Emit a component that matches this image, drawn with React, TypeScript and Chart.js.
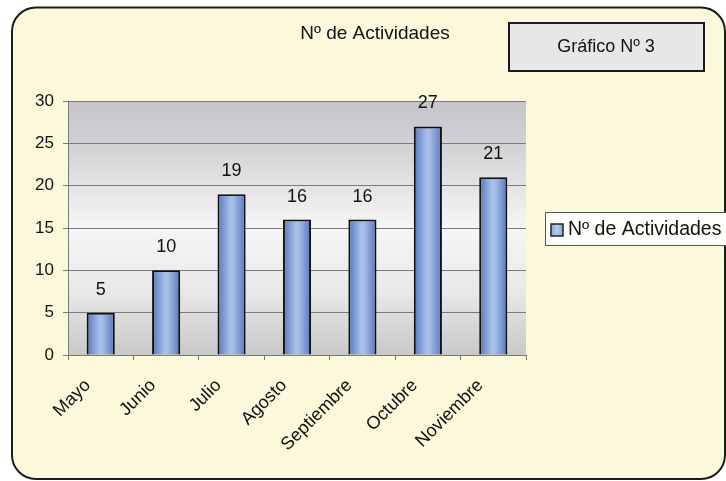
import { useEffect, useRef } from 'react';
import { Chart, registerables } from 'chart.js';

Chart.register(...registerables);

// Data
const months = ['Mayo', 'Junio', 'Julio', 'Agosto', 'Septiembre', 'Octubre', 'Noviembre'];
const activities = [5, 10, 19, 16, 16, 27, 21];
const yTicks = [0, 5, 10, 15, 20, 25, 30];
const chartTitle = 'Nº de Actividades';
const badgeText = 'Gráfico Nº 3';
const seriesName = 'Nº de Actividades';

const FONT = '"Liberation Sans", Arial, sans-serif';
const BAR_FRACTION = 0.43;

function roundRect(ctx: CanvasRenderingContext2D, x: number, y: number, w: number, h: number, r: number) {
  ctx.beginPath();
  ctx.moveTo(x + r, y);
  ctx.lineTo(x + w - r, y);
  ctx.arcTo(x + w, y, x + w, y + r, r);
  ctx.lineTo(x + w, y + h - r);
  ctx.arcTo(x + w, y + h, x + w - r, y + h, r);
  ctx.lineTo(x + r, y + h);
  ctx.arcTo(x, y + h, x, y + h - r, r);
  ctx.lineTo(x, y + r);
  ctx.arcTo(x, y, x + r, y, r);
  ctx.closePath();
}

// Page frame, plot background, title, badge, legend and value labels
const decorations = {
  id: 'decorations',
  beforeDraw(chart: any) {
    const ctx: CanvasRenderingContext2D = chart.ctx;
    const { left, right, top, bottom } = chart.chartArea;
    ctx.save();
    ctx.fillStyle = '#ffffff';
    ctx.fillRect(0, 0, chart.width, chart.height);
    roundRect(ctx, 12, 7.5, 713, 471.5, 24);
    ctx.fillStyle = '#fbf8dc';
    ctx.fill();
    ctx.lineWidth = 2;
    ctx.strokeStyle = '#1c1c1c';
    ctx.stroke();

    const g = ctx.createLinearGradient(0, top, 0, bottom);
    g.addColorStop(0, '#c4c4c9');
    g.addColorStop(0.18, '#d3d3d6');
    g.addColorStop(0.5, '#f6f6f6');
    g.addColorStop(0.75, '#e8e8e8');
    g.addColorStop(1, '#c8c8c8');
    ctx.fillStyle = g;
    ctx.fillRect(left, top, right - left, bottom - top);
    ctx.restore();
  },
  afterDatasetsDraw(chart: any) {
    const ctx: CanvasRenderingContext2D = chart.ctx;
    const meta = chart.getDatasetMeta(0);
    ctx.save();
    ctx.fillStyle = '#111111';
    ctx.font = `18px ${FONT}`;
    ctx.textAlign = 'center';
    ctx.textBaseline = 'middle';
    meta.data.forEach((el: any, i: number) => {
      ctx.fillText(String(activities[i]), el.x, el.y - 23);
    });
    ctx.restore();
  },
  afterDraw(chart: any) {
    const ctx: CanvasRenderingContext2D = chart.ctx;
    ctx.save();
    ctx.fillStyle = '#111111';
    ctx.textBaseline = 'middle';
    ctx.textAlign = 'center';
    ctx.font = `19px ${FONT}`;
    ctx.fillText(chartTitle, 375, 34);

    // badge
    ctx.fillStyle = '#e7e7e7';
    ctx.fillRect(509, 23, 195, 48);
    ctx.lineWidth = 2;
    ctx.strokeStyle = '#1a1a1a';
    ctx.strokeRect(509, 23, 195, 48);
    ctx.fillStyle = '#111111';
    ctx.font = `18px ${FONT}`;
    ctx.fillText(badgeText, 606, 47);

    // legend
    ctx.fillStyle = '#fdfdf9';
    ctx.fillRect(545.5, 212.5, 200, 33);
    ctx.lineWidth = 1;
    ctx.strokeStyle = '#555555';
    ctx.strokeRect(545.5, 212.5, 200, 33);
    const mg = ctx.createLinearGradient(551, 0, 563, 0);
    mg.addColorStop(0, '#8aa5d6');
    mg.addColorStop(0.5, '#b8cbec');
    mg.addColorStop(1, '#8aa5d6');
    ctx.fillStyle = mg;
    ctx.fillRect(551, 224, 12, 12);
    ctx.lineWidth = 1.5;
    ctx.strokeStyle = '#222222';
    ctx.strokeRect(551, 224, 12, 12);
    ctx.fillStyle = '#111111';
    ctx.textAlign = 'left';
    ctx.font = `19.5px ${FONT}`;
    ctx.fillText(seriesName, 568, 230);
    ctx.restore();
  },
};

function barFill(c: any) {
  const xs = c.chart.scales && c.chart.scales.x;
  if (!xs || !isFinite(xs.width) || xs.width <= 0) return '#7f9bd0';
  const cx = xs.getPixelForValue(c.dataIndex);
  const half = (xs.width / months.length) * BAR_FRACTION / 2;
  const g = c.chart.ctx.createLinearGradient(cx - half, 0, cx + half, 0);
  g.addColorStop(0, '#5777bd');
  g.addColorStop(0.45, '#a6bee8');
  g.addColorStop(0.55, '#a6bee8');
  g.addColorStop(1, '#5777bd');
  return g;
}

export default function App() {
  const canvasRef = useRef<HTMLCanvasElement | null>(null);

  useEffect(() => {
    if (!canvasRef.current) return;
    const chart = new Chart(canvasRef.current, {
      type: 'bar',
      data: {
        labels: months,
        datasets: [
          {
            label: seriesName,
            data: activities,
            backgroundColor: barFill,
            borderColor: '#101010',
            borderWidth: 2,
            barPercentage: BAR_FRACTION,
            categoryPercentage: 1,
          },
        ],
      },
      options: {
        animation: false,
        responsive: false,
        maintainAspectRatio: false,
        layout: { padding: { left: 0, right: 200, top: 101, bottom: 0 } },
        plugins: {
          legend: { display: false },
          title: { display: false },
          tooltip: { enabled: false },
        },
        scales: {
          x: {
            offset: true,
            grid: {
              offset: true,
              drawOnChartArea: false,
              drawTicks: true,
              tickLength: 5,
              color: '#7a7a7a',
            },
            border: { color: '#7a7a7a', width: 1 },
            ticks: {
              color: '#111111',
              font: { family: FONT, size: 18 },
              minRotation: 45,
              maxRotation: 45,
              padding: 15,
              labelOffset: -13,
            },
            afterFit: (s: any) => {
              s.height = 126;
            },
          },
          y: {
            min: yTicks[0],
            max: yTicks[yTicks.length - 1],
            ticks: {
              stepSize: yTicks[1] - yTicks[0],
              color: '#111111',
              font: { family: FONT, size: 17 },
              padding: 9,
            },
            grid: { color: '#7a7a7a', tickLength: 5, lineWidth: 1 },
            border: { color: '#7a7a7a', width: 1 },
            afterFit: (s: any) => {
              s.width = 68;
            },
          },
        },
      },
      plugins: [decorations],
    });
    return () => chart.destroy();
  }, []);

  return (
    <div style={{ position: 'absolute', left: 0, top: 0, width: 726, height: 481 }}>
      <canvas ref={canvasRef} width={726} height={481} style={{ display: 'block', width: 726, height: 481 }} />
    </div>
  );
}
